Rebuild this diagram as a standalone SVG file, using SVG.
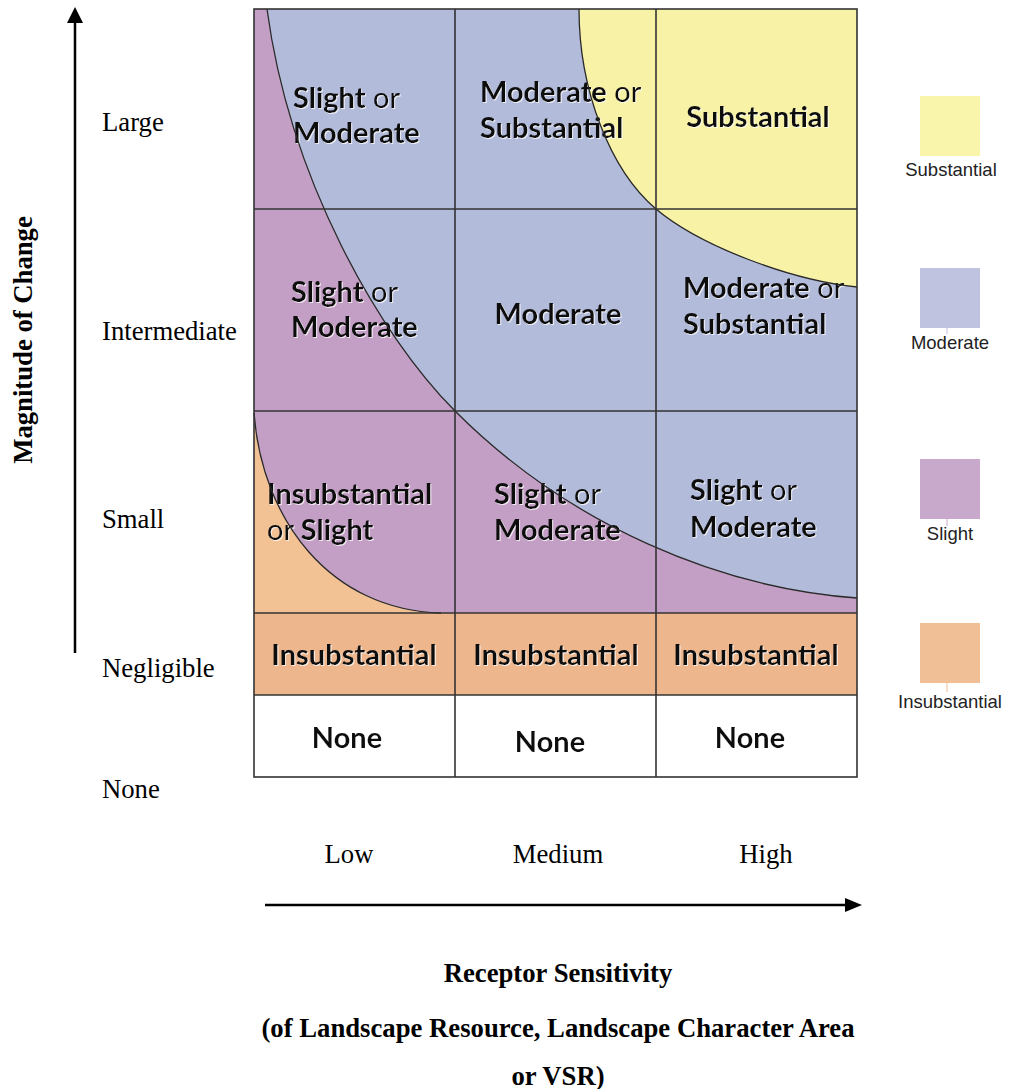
<svg xmlns="http://www.w3.org/2000/svg" width="1014" height="1089" viewBox="0 0 1014 1089">
  <defs>
    <style>
      .axis { font-family: "Liberation Serif", "Times New Roman", serif; font-size: 26.7px; fill: #000; }
      .axis-b { font-family: "Liberation Serif", "Times New Roman", serif; font-size: 26.7px; font-weight: bold; fill: #000; }
      .cell { font-family: Lato, "Open Sans", sans-serif; font-size: 29px; font-weight: 700; fill: #111; filter: url(#emboss); }
      .cell .or { font-weight: 400; }
      .legend { font-family: "Liberation Sans", Arial, sans-serif; font-size: 18.5px; fill: #222; text-anchor: middle; }
      .grid { fill: none; stroke: #333; stroke-width: 1.6; }
      .curve { fill: none; stroke: #2a2a2a; stroke-width: 1.3; }
      .mid { text-anchor: middle; }
    </style>
    <filter id="emboss" x="-5%" y="-20%" width="110%" height="140%">
      <feDropShadow dx="1" dy="1" stdDeviation="0.4" flood-color="#ffffff" flood-opacity="0.75"/>
    </filter>
  </defs>

  <rect width="1014" height="1089" fill="#ffffff"/>

  <!-- matrix colour regions -->
  <g id="regions">
    <rect x="254" y="9" width="603" height="604" fill="#c49fc5"/>
    <path d="M267,9 C290,180 380,336 455,411 C570,526 720,588 857,598 L857,9 Z" fill="#b3bbda"/>
    <path d="M579,9 C579,90 610,170 656,209 C700,246 790,280 857,287 L857,9 Z" fill="#f8f2a6"/>
    <path d="M254,413 C262,520 330,610 441,613 L254,613 Z" fill="#f2c295"/>
    <rect x="254" y="613" width="603" height="82" fill="#edb68c"/>
    <rect x="254" y="695" width="603" height="82" fill="#ffffff"/>
  </g>

  <!-- cell labels -->
  <g id="cell-labels">
    <g id="cell-large-low">
      <text class="cell" x="293" y="108">Slight<tspan class="or"> or</tspan></text>
      <text class="cell" x="293" y="143">Moderate</text>
    </g>
    <g id="cell-large-medium">
      <text class="cell" x="480" y="102">Moderate<tspan class="or"> or</tspan></text>
      <text class="cell" x="480" y="138">Substantial</text>
    </g>
    <g id="cell-large-high">
      <text class="cell mid" x="758" y="127">Substantial</text>
    </g>
    <g id="cell-intermediate-low">
      <text class="cell" x="291" y="302">Slight<tspan class="or"> or</tspan></text>
      <text class="cell" x="291" y="337">Moderate</text>
    </g>
    <g id="cell-intermediate-medium">
      <text class="cell mid" x="558" y="324">Moderate</text>
    </g>
    <g id="cell-intermediate-high">
      <text class="cell" x="683" y="298">Moderate<tspan class="or"> or</tspan></text>
      <text class="cell" x="683" y="334">Substantial</text>
    </g>
    <g id="cell-small-low">
      <text class="cell" x="267" y="504">Insubstantial</text>
      <text class="cell" x="267" y="540"><tspan class="or">or </tspan>Slight</text>
    </g>
    <g id="cell-small-medium">
      <text class="cell" x="494" y="504">Slight<tspan class="or"> or</tspan></text>
      <text class="cell" x="494" y="540">Moderate</text>
    </g>
    <g id="cell-small-high">
      <text class="cell" x="690" y="500">Slight<tspan class="or"> or</tspan></text>
      <text class="cell" x="690" y="537">Moderate</text>
    </g>
    <g id="cell-negligible">
      <text class="cell mid" x="354" y="665">Insubstantial</text>
      <text class="cell mid" x="556" y="665">Insubstantial</text>
      <text class="cell mid" x="756" y="665">Insubstantial</text>
    </g>
    <g id="cell-none">
      <text class="cell mid" x="347" y="748">None</text>
      <text class="cell mid" x="550" y="752">None</text>
      <text class="cell mid" x="750" y="748">None</text>
    </g>
  </g>

  <!-- boundaries between significance bands -->
  <g id="connectors">
    <path class="curve" d="M267,9 C290,180 380,336 455,411 C570,526 720,588 857,598"/>
    <path class="curve" d="M579,9 C579,90 610,170 656,209 C700,246 790,280 857,287"/>
    <path class="curve" d="M254,413 C262,520 330,610 441,613"/>
  </g>

  <!-- matrix grid -->
  <g id="grid">
    <rect class="grid" x="254" y="9" width="603" height="768"/>
    <line class="grid" x1="455" y1="9" x2="455" y2="777"/>
    <line class="grid" x1="656" y1="9" x2="656" y2="777"/>
    <line class="grid" x1="254" y1="209" x2="857" y2="209"/>
    <line class="grid" x1="254" y1="411" x2="857" y2="411"/>
    <line class="grid" x1="254" y1="613" x2="857" y2="613"/>
    <line class="grid" x1="254" y1="695" x2="857" y2="695"/>
  </g>

  <!-- vertical axis -->
  <g id="axis-magnitude">
    <line x1="75" y1="22" x2="75" y2="653" stroke="#000" stroke-width="2.5"/>
    <polygon points="75,7 67,23 83,23" fill="#000"/>
    <text class="axis-b mid" transform="translate(32,340) rotate(-90)">Magnitude of Change</text>
    <text class="axis" x="102" y="131">Large</text>
    <text class="axis" x="102" y="340">Intermediate</text>
    <text class="axis" x="102" y="528">Small</text>
    <text class="axis" x="102" y="677">Negligible</text>
    <text class="axis" x="102" y="798">None</text>
  </g>

  <!-- horizontal axis -->
  <g id="axis-sensitivity">
    <text class="axis mid" x="349" y="863">Low</text>
    <text class="axis mid" x="558" y="863">Medium</text>
    <text class="axis mid" x="766" y="863">High</text>
    <line x1="265" y1="905" x2="848" y2="905" stroke="#000" stroke-width="2.5"/>
    <polygon points="862,905 845,898 845,912" fill="#000"/>
    <text class="axis-b mid" x="558" y="982">Receptor Sensitivity</text>
    <text class="axis-b mid" x="558" y="1037">(of Landscape Resource, Landscape Character Area</text>
    <text class="axis-b mid" x="558" y="1085">or VSR)</text>
  </g>

  <!-- key -->
  <g id="legend">
    <g id="key-substantial">
      <rect x="920" y="96" width="60" height="60" fill="#f9f5ab"/>
      <text class="legend" x="951" y="176">Substantial</text>
    </g>
    <g id="key-moderate">
      <rect x="920" y="268" width="60" height="60" fill="#bfc3e0"/>
      <line x1="947" y1="328" x2="947" y2="334" stroke="#c9cce6" stroke-width="1.2"/>
      <text class="legend" x="950" y="349">Moderate</text>
    </g>
    <g id="key-slight">
      <rect x="920" y="459" width="60" height="60" fill="#c8a9cc"/>
      <line x1="947" y1="519" x2="947" y2="526" stroke="#d2b8d4" stroke-width="1.2"/>
      <text class="legend" x="950" y="540">Slight</text>
    </g>
    <g id="key-insubstantial">
      <rect x="920" y="623" width="60" height="60" fill="#f0bf95"/>
      <line x1="947" y1="683" x2="947" y2="692" stroke="#f3caa6" stroke-width="1.2"/>
      <text class="legend" x="950" y="708">Insubstantial</text>
    </g>
  </g>
</svg>
